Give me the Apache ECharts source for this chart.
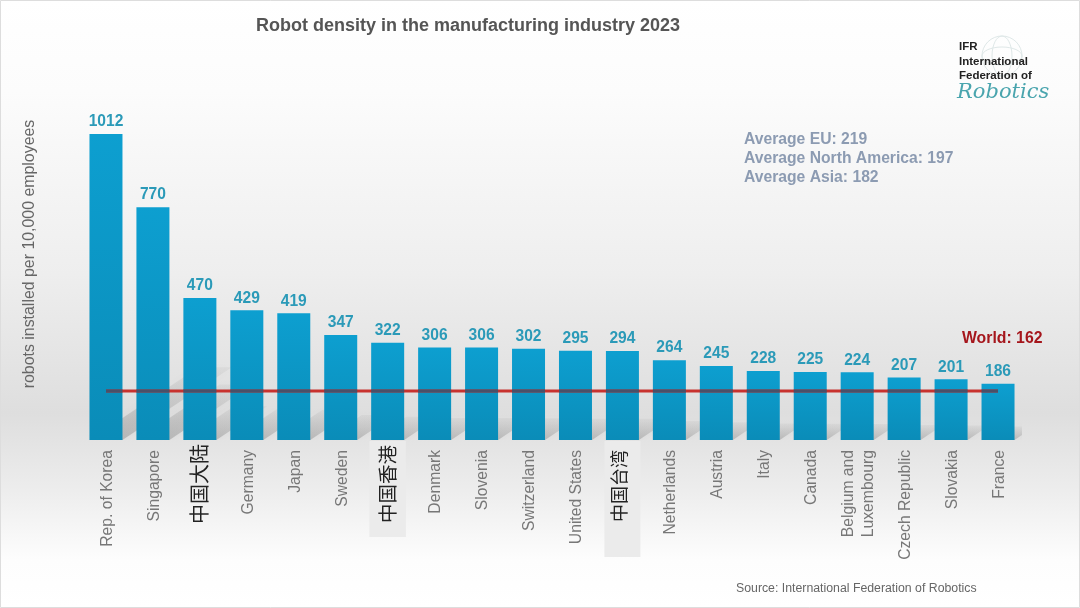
<!DOCTYPE html>
<html>
<head>
  <meta charset="utf-8">
  <title>Robot density 2023</title>
  <style>html,body{margin:0;padding:0;background:#fff}</style>
  <script src="https://cdn.jsdelivr.net/npm/echarts@6/dist/echarts.min.js"></script>
</head>
<body>
<div id="chart1" style="width:1080px;height:608px;"></div>
<script type="text/javascript">
  const categories = ['Rep. of Korea', 'Singapore', '中国大陆', 'Germany', 'Japan', 'Sweden', '中国香港', 'Denmark', 'Slovenia', 'Switzerland', 'United States', '中国台湾', 'Netherlands', 'Austria', 'Italy', 'Canada', 'Belgium and\nLuxembourg', 'Czech Republic', 'Slovakia', 'France'];
  const density = [1012, 770, 470, 429, 419, 347, 322, 306, 306, 302, 295, 294, 264, 245, 228, 225, 224, 207, 201, 186];
  const world = [162, 162, 162, 162, 162, 162, 162, 162, 162, 162, 162, 162, 162, 162, 162, 162, 162, 162, 162, 162];
  const averages = ['Average EU: 219', 'Average North America: 197', 'Average Asia: 182'];

  const sans = '"Liberation Sans", Arial, sans-serif';
  const cjk = '"Noto Sans CJK SC"';
  const barW = 33;
  let myChart1 = echarts.init(document.getElementById('chart1'));

  function labelText(name) {
    if (name === '中国香港') return '{hk|' + name + '}';
    if (name === '中国台湾') return '{tw|' + name + '}';
    if (name === '中国大陆') return '{zh|' + name + '}';
    return name.split('\n').map((s) => '{en|' + s + '}').join('\n');
  }

  // floor shadow behind a bar, length follows the value
  function renderShadow(params, api) {
    let base = api.coord([api.value(0), 0]);
    let top = api.coord([api.value(0), api.value(1) * 0.238]);
    let dy = base[1] - top[1];
    let l = base[0] - barW / 2, r = base[0] + barW / 2;
    return {
      type: 'polygon',
      shape: { points: [[l, base[1]], [r, base[1]], [r + dy * 1.5, top[1]], [l + dy * 1.5, top[1]]] },
      style: {
        fill: new echarts.graphic.LinearGradient(0, 1, 0, 0, [
          { offset: 0, color: 'rgba(120,120,120,0.38)' },
          { offset: 1, color: 'rgba(150,150,150,0.1)' }
        ]),
        shadowBlur: 8, shadowColor: 'rgba(150,150,150,0.3)'
      }
    };
  }

  // the world line looks dark where it crosses a bar
  function renderCross(params, api) {
    let i = api.value(0);
    let p = api.coord([i, api.value(1)]);
    let x1 = i === 0 ? p[0] : p[0] - barW / 2;
    let x2 = i === categories.length - 1 ? p[0] : p[0] + barW / 2;
    return {
      type: 'line',
      shape: { x1: x1, y1: p[1], x2: x2, y2: p[1] },
      style: { stroke: '#4a5068', lineWidth: 3 }
    };
  }

  myChart1.setOption({
    animation: false,
    backgroundColor: new echarts.graphic.LinearGradient(0, 0, 0, 1, [
      { offset: 0, color: '#ffffff' },
      { offset: 0.15, color: '#fcfcfc' },
      { offset: 0.45, color: '#eeeeee' },
      { offset: 0.68, color: '#dedede' },
      { offset: 0.8, color: '#ececec' },
      { offset: 0.92, color: '#fdfdfd' },
      { offset: 1, color: '#ffffff' }
    ]),
    textStyle: { fontFamily: sans },
    title: {
      text: 'Robot density in the manufacturing industry 2023',
      left: 251, top: 12,
      textStyle: { fontSize: 18, fontWeight: 'bold', color: '#555', fontFamily: sans }
    },
    grid: { left: 82.5, width: 939, top: 107.4, height: 332.6 },
    xAxis: {
      type: 'category',
      data: categories,
      axisLine: { show: false },
      axisTick: { show: false },
      axisLabel: {
        interval: 0, rotate: 90, margin: 1,
        fontSize: 15.7, color: '#777', fontFamily: sans,
        formatter: labelText,
        rich: {
          en: { fontSize: 15.7, color: '#777', fontFamily: sans, lineHeight: 20, padding: [3, 9, 0, 0] },
          zh: { fontSize: 20, color: '#222', fontFamily: cjk, padding: [0, 3, 0, 0] },
          hk: { fontSize: 19.5, color: '#222', fontFamily: cjk, backgroundColor: '#ebebeb', padding: [8, 4, 9, 14] },
          tw: { fontSize: 18, color: '#222', fontFamily: cjk, backgroundColor: '#ebebeb', padding: [6, 9, 12, 35] }
        }
      }
    },
    yAxis: {
      type: 'value', min: 0, max: 1100,
      splitLine: { show: false },
      axisLine: { show: false },
      axisTick: { show: false },
      axisLabel: { show: false }
    },
    series: [
      {
        name: 'shadow', type: 'custom', z: 1, clip: true, silent: true,
        renderItem: renderShadow,
        data: density.map((v, i) => [i, v])
      },
      {
        name: 'density', type: 'bar', z: 2, barWidth: barW,
        data: density,
        itemStyle: {
          color: new echarts.graphic.LinearGradient(0, 0, 0, 1, [
            { offset: 0, color: '#0d9fd0' },
            { offset: 1, color: '#0a8cb8' }
          ])
        },
        label: {
          show: true, position: 'top', distance: 4,
          fontSize: 15.6, fontWeight: 'bold', color: '#2b9ab8', fontFamily: sans
        }
      },
      {
        name: 'world', type: 'line', z: 3, symbol: 'none', silent: true,
        data: world,
        lineStyle: { color: '#c8322e', width: 3 }
      },
      {
        name: 'world cross', type: 'custom', z: 4, silent: true,
        renderItem: renderCross,
        data: world.map((v, i) => [i, v])
      }
    ],
    graphic: [
      {
        type: 'rect', z: -1, silent: true,
        shape: { x: 0.5, y: 0.5, width: 1079, height: 607 },
        style: { fill: 'none', stroke: '#dddddd', lineWidth: 1 }
      },
      {
        type: 'text', x: 30, y: 254, rotation: Math.PI / 2, z: 10,
        style: { text: 'robots installed per 10,000 employees', font: '15.9px ' + sans, fill: '#666', textAlign: 'center', textVerticalAlign: 'middle' }
      },
      {
        type: 'text', x: 744, y: 130, z: 10,
        style: { text: averages.join('\n'), font: 'bold 15.7px ' + sans, fill: '#8c9bb2', lineHeight: 19 }
      },
      {
        type: 'text', x: 962, y: 331, z: 10,
        style: { text: 'World: 162', font: 'bold 15.8px ' + sans, fill: '#a5161c' }
      },
      {
        type: 'text', x: 736, y: 583, z: 10,
        style: { text: 'Source: International Federation of Robotics', font: '12.3px ' + sans, fill: '#666' }
      },
      {
        type: 'circle', z: 9, silent: true,
        shape: { cx: 1002, cy: 56, r: 20 },
        style: { fill: 'none', stroke: '#dfe8e8', lineWidth: 1 }
      },
      {
        type: 'ellipse', z: 9, silent: true,
        shape: { cx: 1002, cy: 56, rx: 10, ry: 20 },
        style: { fill: 'none', stroke: '#dfe8e8', lineWidth: 1 }
      },
      {
        type: 'ellipse', z: 9, silent: true,
        shape: { cx: 1002, cy: 56, rx: 20, ry: 9 },
        style: { fill: 'none', stroke: '#dfe8e8', lineWidth: 1 }
      },
      {
        type: 'text', x: 959, y: 40, z: 10,
        style: { text: 'IFR\nInternational\nFederation of', font: 'bold 11.5px ' + sans, fill: '#222', lineHeight: 14.5 }
      },
      {
        type: 'text', x: 957, y: 82, z: 10,
        style: { text: 'Robotics', font: 'italic 21px "DejaVu Serif"', fill: '#4aa5ae' }
      }
    ]
  });
</script>
</body>
</html>
